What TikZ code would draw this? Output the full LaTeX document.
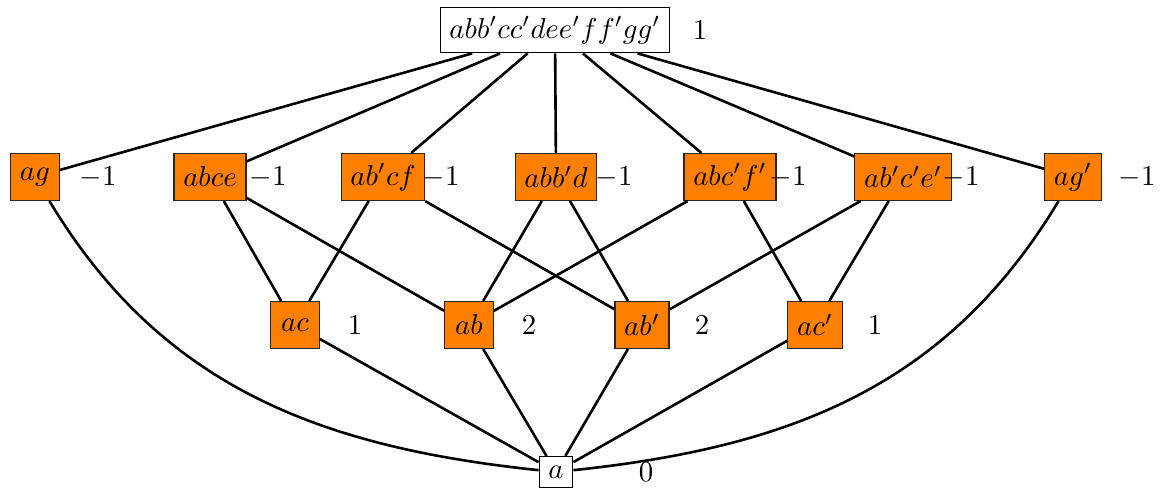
\documentclass[tikz,border=0pt]{standalone}
\begin{document}
\begin{tikzpicture}[x=0.347pt,y=-0.347pt,
  wbox/.style={draw=black,fill=white,inner sep=3.2pt},
  obox/.style={draw=black!85,fill=orange,inner sep=3.2pt,minimum width=16.9pt,minimum height=16.3pt},
  lab/.style={inner sep=0pt},
  edge/.style={line width=0.9pt}]
\useasboundingbox (0,0) rectangle (1166,490);
% top
\node[wbox] (T) at (555,30) {$abb'cc'dee'ff'gg'$};
\node[lab] (lT) at (700,30) {$1$};
% row 2
\node[obox] (ag) at (35,177) {$ag$};
\node[obox] (abce) at (210,177) {$abce$};
\node[obox] (abpcf) at (383,177) {$ab'cf$};
\node[obox] (abbpd) at (556,177) {$abb'd$};
\node[obox] (abcpfp) at (730,177) {$abc'f'$};
\node[obox] (abpcpep) at (903,177) {$ab'c'e'$};
\node[obox] (agp) at (1073,177) {$ag'$};
\node[lab] (l1) at (98,177) {$-1$};
\node[lab] (l2) at (268,177) {$-1$};
\node[lab] (l3) at (441,177) {$-1$};
\node[lab] (l4) at (614,177) {$-1$};
\node[lab] (l5) at (788,177) {$-1$};
\node[lab] (l6) at (961,177) {$-1$};
\node[lab] (l7) at (1137,177) {$-1$};
% row 3
\node[obox] (ac) at (295,325) {$ac$};
\node[obox] (ab) at (469,325) {$ab$};
\node[obox] (abp) at (642,325) {$ab'$};
\node[obox] (acp) at (815,325) {$ac'$};
\node[lab] (m1) at (355,325) {$1$};
\node[lab] (m2) at (529,325) {$2$};
\node[lab] (m3) at (702,325) {$2$};
\node[lab] (m4) at (875,325) {$1$};
% bottom
\node[wbox] (a) at (556,472) {$a$};
\node[lab] (la) at (646,472) {$0$};
% edges top
\foreach \n in {ag,abce,abpcf,abbpd,abcpfp,abpcpep,agp} \draw[edge] (T) -- (\n);
% row2-row3
\draw[edge] (abce) -- (ac);
\draw[edge] (abce) -- (ab);
\draw[edge] (abpcf) -- (ac);
\draw[edge] (abpcf) -- (abp);
\draw[edge] (abbpd) -- (ab);
\draw[edge] (abbpd) -- (abp);
\draw[edge] (abcpfp) -- (ab);
\draw[edge] (abcpfp) -- (acp);
\draw[edge] (abpcpep) -- (abp);
\draw[edge] (abpcpep) -- (acp);
% row3-bottom
\foreach \n in {ac,ab,abp,acp} \draw[edge] (\n) -- (a);
\draw[edge] (ag) to[out=-59,in=174] (a);
\draw[edge] (agp) to[out=239,in=6] (a);
\end{tikzpicture}
\end{document}
